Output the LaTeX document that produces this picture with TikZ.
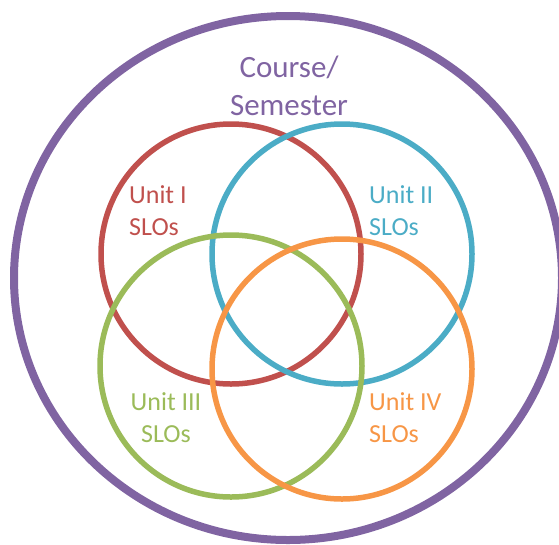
\documentclass[tikz,border=0pt]{standalone}
\usepackage{fontspec}
\setmainfont{Carlito}
\definecolor{cpurple}{HTML}{8064A2}
\definecolor{cred}{HTML}{C0504D}
\definecolor{cblue}{HTML}{4BACC6}
\definecolor{cgreen}{HTML}{9BBB59}
\definecolor{corange}{HTML}{F79646}
\begin{document}
\begin{tikzpicture}[x=1pt,y=-1pt,
  ring/.style={line width=5.5pt},
  big/.style={inner sep=0pt,font=\fontsize{31}{38}\selectfont},
  lbl/.style={inner sep=0pt,font=\fontsize{26}{32}\selectfont}]
\useasboundingbox (0,0) rectangle (559,544);
\clip (0,0) rectangle (559,544);
\draw[cpurple,line width=8pt] (288,278) ellipse [x radius=274, y radius=262];
\draw[ring,cred] (231,254) circle [radius=130];
\draw[ring,cblue] (342,254) circle [radius=130];
\draw[ring,cgreen] (231,366) circle [radius=131];
\draw[ring,corange] (342,369) circle [radius=130];
\node[big,text=cpurple,align=center,anchor=base] (course) at (289,115) {Course/\\Semester};
\node[lbl,text=cred,align=left,anchor=base west] (u1) at (129,235) {Unit I\\SLOs};
\node[lbl,text=cblue,align=left,anchor=base west] (u2) at (369,235) {Unit II\\SLOs};
\node[lbl,text=cgreen,align=center,anchor=base] (u3) at (166,442) {Unit III\\SLOs};
\node[lbl,text=corange,align=left,anchor=base west] (u4) at (369,442) {Unit IV\\SLOs};
\end{tikzpicture}
\end{document}
